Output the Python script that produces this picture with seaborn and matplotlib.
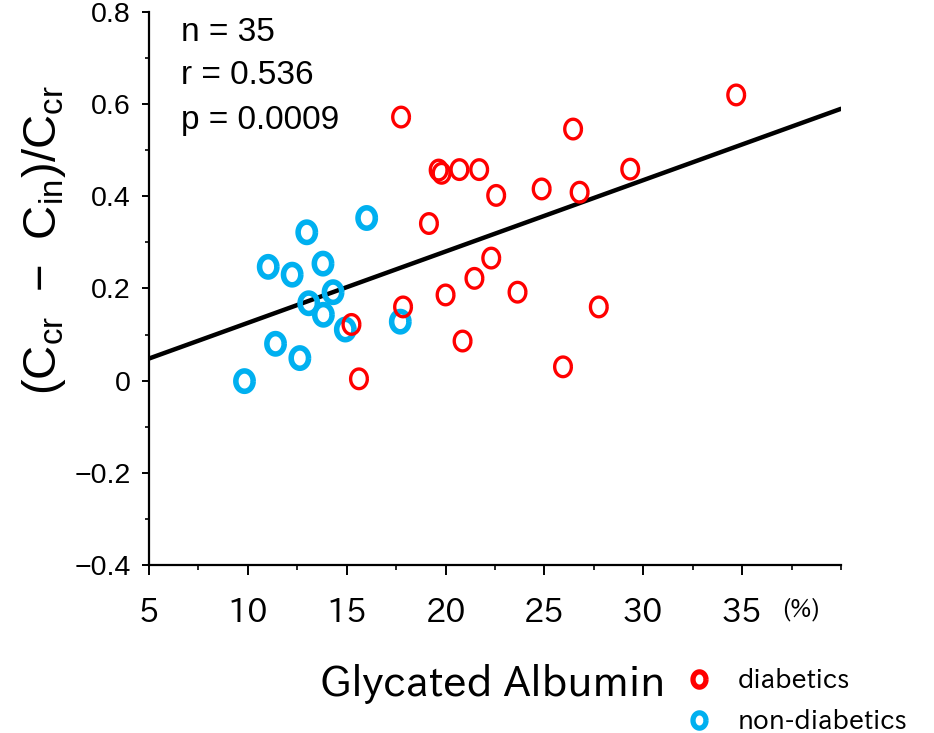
import numpy as np
import pandas as pd
import matplotlib
matplotlib.use("Agg")
import matplotlib.pyplot as plt
from matplotlib.lines import Line2D
from matplotlib.ticker import MultipleLocator
import seaborn as sns

# ---------------- data ----------------
diab_x = [17.75, 34.7, 26.45, 19.65, 19.8, 20.7, 21.7, 22.56, 24.86, 26.78, 29.34,
          19.16, 22.31, 21.46, 20.0, 23.64, 27.75, 17.85, 20.86, 25.94, 15.24, 15.62]
diab_y = [0.572, 0.620, 0.546, 0.457, 0.450, 0.458, 0.458, 0.402, 0.416, 0.409, 0.459,
          0.341, 0.266, 0.222, 0.186, 0.192, 0.160, 0.160, 0.086, 0.030, 0.122, 0.004]
nond_x = [16.01, 12.98, 11.03, 12.24, 13.80, 14.31, 13.08, 13.82, 14.93, 17.71,
          11.40, 12.63, 9.83]
nond_y = [0.353, 0.322, 0.247, 0.230, 0.254, 0.192, 0.168, 0.143, 0.111, 0.128,
          0.080, 0.049, -0.001]
fit_x = [5, 40]
fit_y = [0.048, 0.590]

stats_lines = ["n = 35", "r = 0.536", "p = 0.0009"]
x_ticks = [5, 10, 15, 20, 25, 30, 35]
y_ticks = [-0.4, -0.2, 0, 0.2, 0.4, 0.6, 0.8]
y_tick_labels = ["\u22120.4", "\u22120.2", "0", "0.2", "0.4", "0.6", "0.8"]
group_labels = ["diabetics", "non-diabetics"]

RED = "#FF0000"
BLUE = "#00B0F0"
GOTHIC = ["IPAPGothic", "DejaVu Sans"]
SANS = ["Liberation Sans", "DejaVu Sans"]

df = pd.concat([
    pd.DataFrame({"GA": diab_x, "ratio": diab_y, "group": group_labels[0]}),
    pd.DataFrame({"GA": nond_x, "ratio": nond_y, "group": group_labels[1]}),
], ignore_index=True)

sns.set_theme(style="white")
plt.rcParams["font.family"] = SANS
plt.rcParams["mathtext.default"] = "regular"
for k in ["text.color", "axes.labelcolor", "xtick.color", "ytick.color", "axes.edgecolor"]:
    plt.rcParams[k] = "black"

fig = plt.figure(figsize=(9.34, 7.33), dpi=100)
ax = fig.add_axes([149 / 934, 1 - 565 / 733, (841 - 149) / 934, (565 - 12) / 733])

t = np.linspace(0, 2 * np.pi, 73)
ell = np.column_stack([0.85 * np.cos(t), np.sin(t)])

# regression line
sns.lineplot(x=fit_x, y=fit_y, ax=ax, color="black", lw=3.2, zorder=2)

styles = {group_labels[0]: (RED, 200, 2.4), group_labels[1]: (BLUE, 215, 4.0)}
for g in [group_labels[1], group_labels[0]]:
    col, s, lw = styles[g]
    sub = df[df["group"] == g]
    sns.scatterplot(data=sub, x="GA", y="ratio", ax=ax, marker=ell, s=s,
                    color=col, linewidth=lw, zorder=3, legend=False)
for coll in ax.collections:
    ec = coll.get_facecolor()
    coll.set_edgecolor(ec)
    coll.set_facecolor("none")

ax.set_xlim(5, 40)
ax.set_ylim(-0.4, 0.8)
for sp in ["top", "right"]:
    ax.spines[sp].set_visible(False)
for sp in ["left", "bottom"]:
    ax.spines[sp].set_color("black")
    ax.spines[sp].set_linewidth(1.6)

ax.set_xticks(x_ticks)
ax.set_xticklabels([str(v) for v in x_ticks], family=GOTHIC, fontsize=23)
ax.xaxis.set_minor_locator(MultipleLocator(2.5))
ax.set_yticks(y_ticks)
ax.set_yticklabels(y_tick_labels, fontsize=20.5, family=SANS)
ax.yaxis.set_minor_locator(MultipleLocator(0.1))
ax.tick_params(axis="x", which="major", direction="out", length=7.5, width=1.4,
               color="black", pad=16, bottom=True)
ax.tick_params(axis="x", which="minor", direction="out", length=3.5, width=1.2,
               color="black", bottom=True)
ax.tick_params(axis="y", which="major", direction="out", length=5, width=1.4,
               color="black", pad=8, left=True)
ax.tick_params(axis="y", which="minor", direction="out", length=3, width=1.2,
               color="black", left=True)

ax.set_xlabel("Glycated Albumin", fontsize=30, family=GOTHIC)
ax.xaxis.label.set_va("center")
ax.xaxis.set_label_coords(0.496, -0.216)
ax.set_ylabel(r"$(C_{cr}\ -\ C_{in})/C_{cr}$", fontsize=34)
ax.yaxis.label.set_va("center")
ax.yaxis.set_label_coords(-0.152, 0.588)

# stats text
for txt, base in zip(stats_lines, [41, 84, 129]):
    fig.text(181 / 934, 1 - base / 733, txt, fontsize=24, va="baseline", ha="left",
             family=SANS)

fig.text(801 / 934, 1 - 609 / 733, "(%)", fontsize=18, va="center", ha="center",
         family=GOTHIC)

handles = [Line2D([], [], ls="none", marker=ell, ms=11, mfc="none", mec=RED, mew=3.8),
           Line2D([], [], ls="none", marker=ell, ms=11, mfc="none", mec=BLUE, mew=3.8)]
fig.legend(handles, group_labels, loc="upper left", bbox_to_anchor=(686 / 934, 1 - 668 / 733),
           frameon=False, handlelength=1.0, handletextpad=0.95,
           labelspacing=0.6, borderpad=0, borderaxespad=0,
           prop={"family": GOTHIC, "size": 19})

fig.savefig("out.png", dpi=100)
